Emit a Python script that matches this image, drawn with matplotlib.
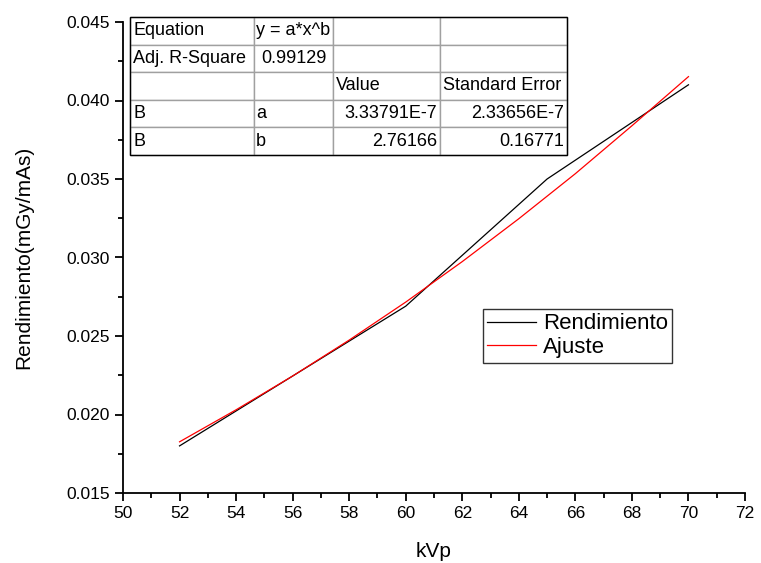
import matplotlib
matplotlib.use("Agg")
import matplotlib.pyplot as plt
from matplotlib.ticker import MultipleLocator, FormatStrFormatter
from matplotlib.patches import Rectangle

plt.rcParams['font.family'] = ['Liberation Sans', 'DejaVu Sans']

# Measured data (black line)
kvp = [52, 60, 65, 70]
rendimiento = [0.0180, 0.0269, 0.0350, 0.0410]

# Fitted curve (red line)
kvp_fit = [52, 54, 56, 58, 60, 62, 64, 66, 68, 70]
ajuste = [0.01826, 0.02030, 0.02245, 0.02474, 0.02716, 0.02974, 0.03247, 0.03534, 0.03839, 0.04152]

# Table contents
table_rows = [
    ["Equation", "y = a*x^b", "", ""],
    ["Adj. R-Square", "0.99129", "", ""],
    ["", "", "Value", "Standard Error"],
    ["B", "a", "3.33791E-7", "2.33656E-7"],
    ["B", "b", "2.76166", "0.16771"],
]
table_align = [
    ["left", "left", "left", "left"],
    ["left", "center", "left", "left"],
    ["left", "left", "left", "left"],
    ["left", "left", "right", "right"],
    ["left", "left", "right", "right"],
]
col_widths = [124, 79, 107, 127]

W, H = 761, 563
fig = plt.figure(figsize=(W / 100, H / 100), dpi=100)
ax = fig.add_axes([123 / W, 1 - 493 / H, (745 - 123) / W, (493 - 22) / H])

ax.plot(kvp, rendimiento, color='black', lw=0.9, label='Rendimiento')
ax.plot(kvp_fit, ajuste, color='red', lw=0.9, label='Ajuste')

ax.set_xlim(50, 72)
ax.set_ylim(0.015, 0.045)
ax.xaxis.set_major_locator(MultipleLocator(2))
ax.xaxis.set_minor_locator(MultipleLocator(1))
ax.yaxis.set_major_locator(MultipleLocator(0.005))
ax.yaxis.set_minor_locator(MultipleLocator(0.0025))
ax.yaxis.set_major_formatter(FormatStrFormatter('%.3f'))
for s in ['top', 'right']:
    ax.spines[s].set_visible(False)
for s in ['left', 'bottom']:
    ax.spines[s].set_linewidth(1.3)
ax.tick_params(which='major', direction='out', length=6, width=1.3, labelsize=12.5)
ax.tick_params(which='minor', direction='out', length=3.5, width=1.3)
ax.set_xlabel('kVp', fontsize=15, labelpad=15)
ax.set_ylabel('Rendimiento(mGy/mAs)', fontsize=15, labelpad=24)

leg = ax.legend(loc='upper left', bbox_to_anchor=(483 / W, 1 - 309 / H),
                bbox_transform=fig.transFigure, fontsize=16, frameon=True,
                fancybox=False, edgecolor='black', handlelength=2.2,
                handletextpad=0.3, borderpad=0.2, labelspacing=0.12,
                borderaxespad=0)
leg.get_frame().set_linewidth(1.0)

# Table
tx0, ty0, tx1, ty1 = 130, 17, 567, 155
tax = fig.add_axes([tx0 / W, 1 - ty1 / H, (tx1 - tx0) / W, (ty1 - ty0) / H])
tax.axis('off')
total = sum(col_widths)
tbl = tax.table(cellText=table_rows, colWidths=[c / total for c in col_widths],
                bbox=[0, 0, 1, 1], cellLoc='left')
tbl.auto_set_font_size(False)
for (r, c), cell in tbl.get_celld().items():
    cell.set_fontsize(13)
    cell.set_edgecolor('#a0a0a0')
    cell.set_linewidth(1.0)
    cell.get_text().set_horizontalalignment(table_align[r][c])
    cell.PAD = 0.025
tax.add_patch(Rectangle((0, 0), 1, 1, transform=tax.transAxes, fill=False,
                        edgecolor='black', lw=1.0, clip_on=False, zorder=5))

fig.savefig('out.png', dpi=100)
